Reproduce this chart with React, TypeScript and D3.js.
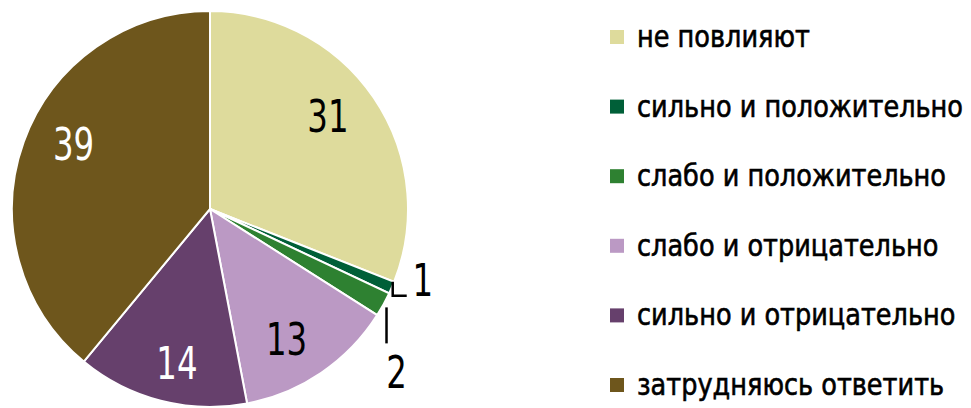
import React, { useEffect, useRef } from 'react';
import * as d3 from 'd3';

const categories = [
  'не повлияют',
  'сильно и положительно',
  'слабо и положительно',
  'слабо и отрицательно',
  'сильно и отрицательно',
  'затрудняюсь ответить',
];
const values = [31, 1, 2, 13, 14, 39];
const colors = ['#DEDB9C', '#005F38', '#2E8131', '#BB99C4', '#66406C', '#6E561C'];
const labelColors = ['#000', '#000', '#000', '#000', '#fff', '#fff'];

const W = 971;
const H = 408;
const FONT = '"DejaVu Sans Condensed", "DejaVu Sans", sans-serif';

const App = () => {
  const svgRef = useRef<SVGSVGElement>(null);

  useEffect(() => {
    document.body.style.margin = '0';
    const svg = d3.select(svgRef.current);
    svg.selectAll('*').remove();

    const cx = 210;
    const cy = 209;
    const r = 198;
    const numScale = 0.8;

    const data = categories.map((c, i) => ({ name: c, value: values[i], i }));

    const pie = d3.pie<any>().sort(null).value(d => d.value);
    const arcs = pie(data);
    const arc = d3.arc<any>().innerRadius(0).outerRadius(r);
    const labelArc = d3.arc<any>().innerRadius(145).outerRadius(145);
    const edgeArc = d3.arc<any>().innerRadius(r).outerRadius(r);

    const g = svg.append('g').attr('transform', `translate(${cx},${cy})`);

    g.selectAll('path.slice')
      .data(arcs)
      .enter()
      .append('path')
      .attr('class', 'slice')
      .attr('d', arc)
      .attr('fill', d => colors[d.data.i])
      .attr('stroke', '#fff')
      .attr('stroke-width', 2);

    const number = (x: number, y: number, txt: string, fill: string) => {
      g.append('g')
        .attr('transform', `translate(${x},${y}) scale(${numScale},1)`)
        .append('text')
        .attr('text-anchor', 'middle')
        .attr('font-family', FONT)
        .attr('font-size', 45)
        .attr('fill', fill)
        .text(txt);
    };

    // manual nudges for the big labels (like the original's best-fit placement)
    const nudge: Record<number, [number, number]> = {
      0: [-2, -11],
      3: [-5, 10],
      4: [3, 14],
      5: [0, -16],
    };

    arcs.forEach(a => {
      const i = a.data.i;
      if (a.data.value < 5) return;
      const [x, y] = labelArc.centroid(a);
      const [dx, dy] = nudge[i] || [0, 0];
      number(x + dx, y + dy + 16, String(a.data.value), labelColors[i]);
    });

    // small slices: leader lines outside
    arcs.filter(a => a.data.value < 5).forEach(a => {
      const [ex, ey] = edgeArc.centroid(a);
      if (a.data.i === 1) {
        const x0 = ex + 1;
        const y0 = ey - 6;
        g.append('path')
          .attr('d', `M${x0},${y0}V${y0 + 14}H${x0 + 14}`)
          .attr('fill', 'none')
          .attr('stroke', '#000')
          .attr('stroke-width', 2.5);
        number(x0 + 30, y0 + 14, String(a.data.value), '#000');
      } else {
        const x0 = ex + 3;
        const y0 = ey + 3;
        g.append('path')
          .attr('d', `M${x0},${y0}V${y0 + 36}`)
          .attr('fill', 'none')
          .attr('stroke', '#000')
          .attr('stroke-width', 2.5);
        number(x0 + 10, y0 + 81, String(a.data.value), '#000');
      }
    });

    // legend
    const y = d3.scalePoint<string>().domain(categories).range([47, 395]);
    const legend = svg.append('g');
    const rows = legend.selectAll('g.row')
      .data(data)
      .enter()
      .append('g')
      .attr('class', 'row')
      .attr('transform', d => `translate(0,${y(d.name)})`);

    rows.append('rect')
      .attr('x', 610)
      .attr('y', -17)
      .attr('width', 14)
      .attr('height', 14)
      .attr('fill', d => colors[d.i]);

    const texts = rows.append('text')
      .attr('font-family', FONT)
      .attr('font-size', 31)
      .attr('fill', '#000')
      .attr('stroke', '#000')
      .attr('stroke-width', 0.6)
      .text(d => d.name);

    // squeeze the legend text to the narrow face of the original
    let longest = 1;
    texts.each(function () {
      longest = Math.max(longest, (this as SVGTextElement).getComputedTextLength());
    });
    const k = Math.min(1, 326 / longest);
    texts.attr('transform', `translate(637,0) scale(${k},1)`);
  }, []);

  return <svg ref={svgRef} width={W} height={H} style={{ display: 'block', background: '#fff' }} />;
};

export default App;
